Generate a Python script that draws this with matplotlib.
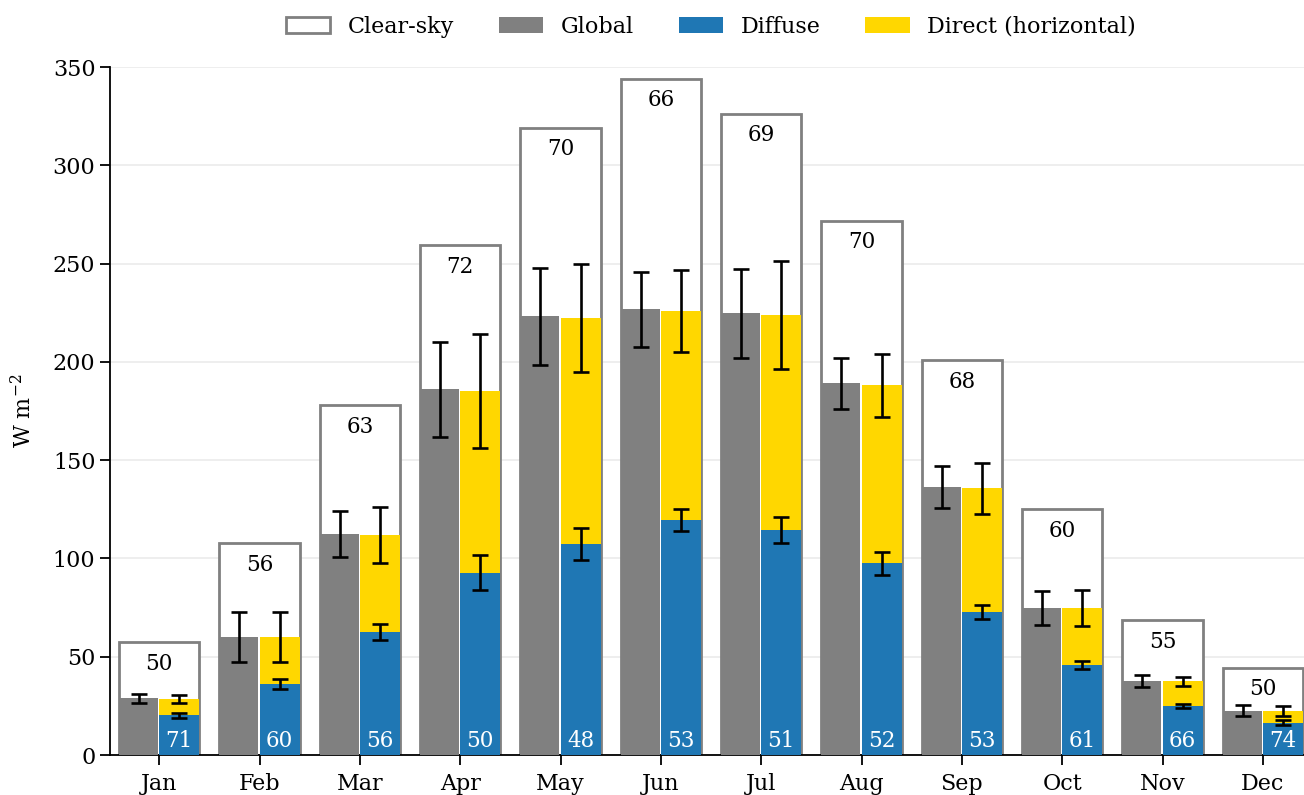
import numpy as np
import matplotlib
matplotlib.use('Agg')
import matplotlib.pyplot as plt
from matplotlib.patches import Patch

plt.rcParams['font.family'] = 'DejaVu Serif'
plt.rcParams['mathtext.fontset'] = 'dejavuserif'

# monthly means, W m-2
months = ['Jan', 'Feb', 'Mar', 'Apr', 'May', 'Jun',
          'Jul', 'Aug', 'Sep', 'Oct', 'Nov', 'Dec']
clear_sky = [57.3, 107.7, 178.0, 259.4, 319.1, 343.9,
             326.1, 271.8, 200.9, 125.0, 68.5, 44.4]
global_rad = [28.8, 60.2, 112.4, 186.0, 223.3, 226.7,
              224.7, 189.1, 136.3, 74.8, 37.6, 22.5]
global_err = [2.4, 12.7, 11.9, 24.0, 24.7, 19.0,
              22.7, 13.0, 10.6, 8.6, 3.1, 2.7]
diffuse = [20.3, 36.1, 62.6, 92.8, 107.3, 119.5,
           114.5, 97.5, 72.7, 45.8, 24.9, 16.4]
diffuse_err = [1.3, 2.4, 4.0, 8.7, 8.0, 5.8,
               6.8, 5.7, 3.4, 1.8, 1.2, 1.2]
direct = [8.2, 23.9, 49.3, 92.2, 115.0, 106.4,
          109.2, 90.7, 63.1, 28.9, 12.6, 6.0]
total_err = [2.1, 12.7, 14.2, 29.0, 27.7, 21.0,
             27.4, 16.0, 13.0, 9.0, 2.4, 2.7]
pct_clear = [50, 56, 63, 72, 70, 66, 69, 70, 68, 60, 55, 50]
pct_diffuse = [71, 60, 56, 50, 48, 53, 51, 52, 53, 61, 66, 74]

x = np.arange(len(months))
w = 0.4
fs = 16
fs_ann = 15.5

fig = plt.figure(figsize=(13.04, 7.95), dpi=100)
ax = fig.add_axes([110 / 1304, 40 / 795, 1 - 110 / 1304, 688 / 795])

# clear-sky outline behind everything
ax.bar(x, clear_sky, width=2 * w, facecolor='white', edgecolor='grey',
       linewidth=2, zorder=2)

ekw = dict(ecolor='black', elinewidth=1.9, capsize=6, capthick=1.9)

ax.bar(x - w, global_rad, width=w - 0.012, align='edge', color='grey', zorder=3)
ax.errorbar(x - w / 2, global_rad, yerr=global_err, fmt='none', zorder=5, **ekw)

ax.bar(x + w / 2, diffuse, width=w, color='#1f77b4', zorder=3)
ax.bar(x + w / 2, direct, width=w, bottom=diffuse, color='gold', zorder=3)
total = np.array(diffuse) + np.array(direct)
ax.errorbar(x + w / 2, total, yerr=total_err, fmt='none', zorder=5, **ekw)
ax.errorbar(x + w / 2, diffuse, yerr=diffuse_err, fmt='none', zorder=5, **ekw)

for i in range(len(months)):
    ax.annotate('%d' % pct_clear[i], (x[i], clear_sky[i]),
                xytext=(0, -7.5), textcoords='offset points',
                ha='center', va='top', fontsize=fs_ann, zorder=6)
    ax.annotate('%d' % pct_diffuse[i], (x[i] + w / 2, 0),
                xytext=(0, 2.5), textcoords='offset points',
                ha='center', va='bottom', fontsize=fs_ann, color='white', zorder=6)

ax.set_xlim(-0.49, 11.41)
ax.set_ylim(0, 350)
ax.set_xticks(x)
ax.set_xticklabels(months)
ax.set_yticks(np.arange(0, 351, 50))
ax.tick_params(labelsize=fs, width=1.3, length=7)
ax.tick_params(axis='x', pad=6)
ax.set_ylabel('W m$^{-2}$', fontsize=fs, labelpad=12)

ax.yaxis.grid(True, color='#ebebeb', linewidth=1.2)
ax.set_axisbelow(True)
for s in ['top', 'right']:
    ax.spines[s].set_visible(False)
for s in ['left', 'bottom']:
    ax.spines[s].set_linewidth(1.3)

handles = [Patch(facecolor='white', edgecolor='grey', linewidth=2, label='Clear-sky'),
           Patch(facecolor='grey', label='Global'),
           Patch(facecolor='#1f77b4', label='Diffuse'),
           Patch(facecolor='gold', label='Direct (horizontal)')]
fig.legend(handles=handles, loc='center', bbox_to_anchor=(711 / 1304, 1 - 27 / 795),
           ncol=4, frameon=False, fontsize=fs)

fig.savefig('out.png', dpi=100)
